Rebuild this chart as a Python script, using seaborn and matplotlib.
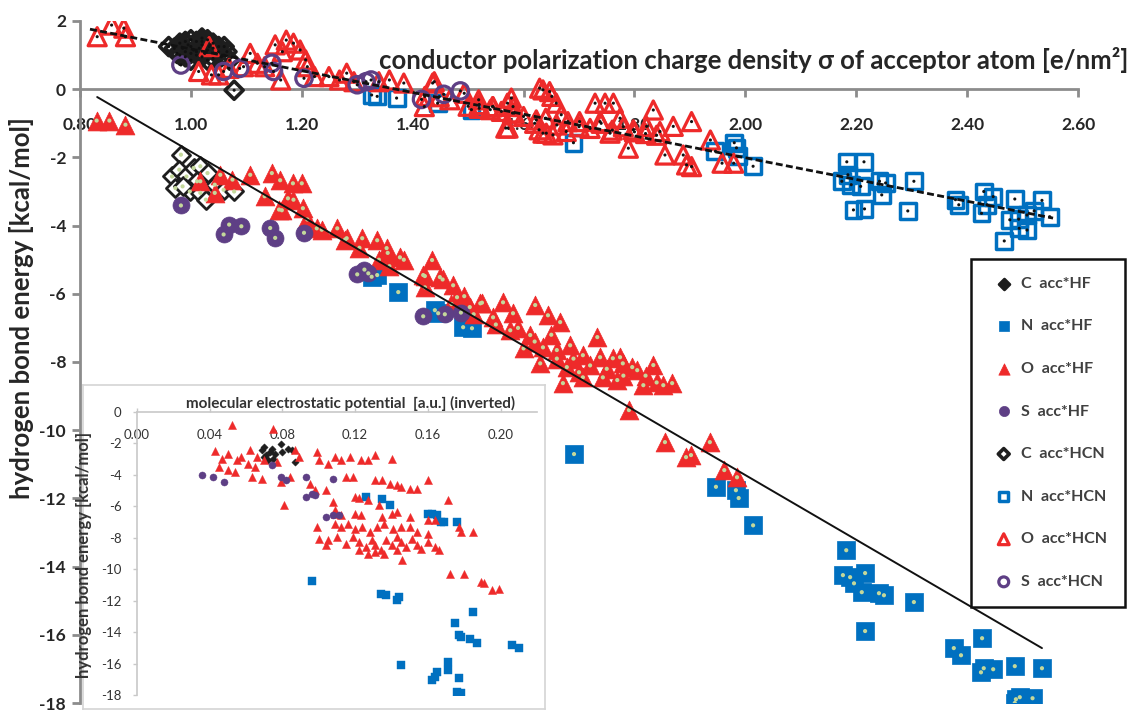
import matplotlib
matplotlib.use("Agg")
import matplotlib.pyplot as plt
import seaborn as sns
import pandas as pd

# ---------------- data: main chart (sigma vs HB energy) ----------------
# acc*HF series (filled markers)
hf_C_x = [0.982, 0.966, 0.979, 0.992, 0.972, 1.005, 1.017, 1.011, 1.030, 0.998, 1.017, 1.043, 1.059, 1.078, 1.027, 0.985]
hf_C_y = [-1.92, -2.56, -2.36, -2.56, -2.90, -2.31, -2.26, -2.70, -2.46, -3.00, -3.04, -2.80, -2.95, -3.00, -3.24, -2.85]

hf_N_x = [1.336, 1.326, 1.374, 1.440, 1.446, 1.491, 1.507, 1.691, 1.947, 1.983, 1.988, 2.014, 2.182, 2.176,
          2.189, 2.196, 2.216, 2.210, 2.241, 2.250, 2.304, 2.216, 2.376, 2.389, 2.427, 2.425, 2.447, 2.430,
          2.486, 2.535, 2.488, 2.495, 2.518, 2.486]
hf_N_y = [-5.45, -5.50, -5.95, -6.48, -6.57, -6.98, -7.01, -10.70, -11.66, -11.76, -11.99, -12.79, -13.52, -14.25,
          -14.31, -14.49, -14.19, -14.75, -14.78, -14.84, -15.04, -15.89, -16.39, -16.60, -16.10, -17.10, -17.01, -16.98,
          -16.92, -16.98, -17.89, -17.83, -17.86, -18.00]

hf_O_x = [0.830, 0.853, 0.882, 1.017, 1.043, 1.053, 1.075, 1.107, 1.133, 1.146, 1.161, 1.184, 1.200, 1.175,
          1.159, 1.185, 1.202, 1.164, 1.210, 1.227, 1.236, 1.264, 1.278, 1.281, 1.309, 1.304, 1.336, 1.339,
          1.353, 1.355, 1.358, 1.377, 1.384, 1.435, 1.419, 1.422, 1.449, 1.454, 1.473, 1.422, 1.480, 1.493,
          1.522, 1.503, 1.525, 1.545, 1.563, 1.581, 1.621, 1.644, 1.666, 1.576, 1.612, 1.635, 1.660, 1.684,
          1.707, 1.733, 1.738, 1.761, 1.774, 1.779, 1.796, 1.805, 1.834, 1.868, 1.852, 1.630, 1.671, 1.707,
          1.743, 1.769, 1.816, 1.678, 1.790, 1.855, 1.893, 1.902, 1.936, 1.962, 1.985, 1.550, 1.590, 1.620,
          1.650, 1.690, 1.720, 1.750, 1.780, 1.820, 1.840, 1.700, 1.660, 1.600, 1.510, 1.470]
hf_O_y = [-0.92, -0.92, -1.04, -2.70, -3.04, -2.51, -2.65, -2.51, -3.14, -2.46, -2.67, -2.76, -2.76, -3.20,
          -3.53, -3.24, -3.49, -3.55, -3.82, -4.08, -4.12, -4.08, -4.41, -4.37, -4.37, -4.65, -4.43, -5.00,
          -4.66, -4.80, -5.19, -4.93, -5.00, -5.01, -5.45, -5.48, -5.51, -5.58, -5.75, -5.81, -6.10, -6.07,
          -6.28, -6.39, -6.26, -6.69, -6.25, -6.57, -6.33, -6.63, -6.83, -7.07, -7.21, -7.57, -7.65, -7.51,
          -7.80, -7.27, -7.86, -7.89, -7.86, -8.04, -8.15, -8.24, -8.09, -8.62, -8.68, -8.04, -8.62, -8.45,
          -8.45, -8.53, -8.68, -8.15, -9.41, -10.35, -10.79, -10.73, -10.35, -11.17, -11.38, -6.90, -7.00, -7.40,
          -7.20, -7.90, -8.10, -8.20, -8.40, -8.40, -8.60, -8.30, -7.90, -7.60, -6.60, -6.30]

hf_S_x = [0.982, 1.059, 1.069, 1.091, 1.143, 1.152, 1.204, 1.300, 1.313, 1.320, 1.419, 1.458, 1.487]
hf_S_y = [-3.41, -4.26, -3.97, -4.02, -4.07, -4.36, -4.21, -5.43, -5.29, -5.40, -6.66, -6.60, -6.55]

# acc*HCN series (open markers)
hcn_C_x = [0.97, 0.98, 0.99, 1.00, 1.00, 1.01, 1.01, 1.02, 1.02, 1.03, 1.03, 1.04, 1.04, 1.05, 1.06, 0.99,
           1.00, 1.06, 1.07, 1.078, 0.96, 1.02, 0.975, 0.985, 0.995, 1.005, 1.015, 1.025, 1.035, 1.045,
           1.055, 0.99, 1.01, 1.03, 1.05, 0.98, 1.00, 1.02, 1.04, 1.065]
hcn_C_y = [1.20, 1.35, 1.10, 1.45, 1.25, 1.00, 1.40, 1.30, 0.95, 1.15, 1.45, 1.20, 0.90, 1.10, 1.00, 0.95,
           0.85, 1.25, 0.85, -0.03, 1.25, 1.50, 1.05, 1.20, 1.30, 1.15, 1.20, 1.05, 1.30, 1.05,
           0.95, 1.40, 1.10, 0.85, 1.25, 1.00, 1.05, 1.40, 1.35, 1.10]

hcn_N_x = [1.326, 1.336, 1.371, 1.445, 1.506, 1.690, 1.946, 1.984, 1.987, 2.014, 1.980, 2.183, 2.214, 2.185,
           2.174, 2.191, 2.208, 2.195, 2.215, 2.242, 2.253, 2.246, 2.304, 2.293, 2.379, 2.385, 2.430, 2.447,
           2.426, 2.436, 2.486, 2.477, 2.493, 2.508, 2.521, 2.535, 2.549, 2.494, 2.508, 2.467]
hcn_N_y = [-0.17, -0.21, -0.26, -0.41, -0.60, -1.57, -1.82, -1.72, -1.97, -2.26, -1.57, -2.13, -2.13, -2.51,
           -2.70, -2.80, -2.85, -3.54, -3.51, -2.70, -2.75, -3.10, -2.70, -3.57, -3.24, -3.39, -3.00, -3.15,
           -3.64, -3.39, -3.22, -3.83, -3.81, -3.69, -3.57, -3.26, -3.74, -4.08, -4.13, -4.45]

hcn_O_x = [0.831, 0.857, 0.879, 0.882, 1.033, 1.014, 1.037, 1.050, 1.069, 1.095, 1.107, 1.120, 1.133, 1.152,
           1.165, 1.172, 1.185, 1.197, 1.207, 1.210, 1.162, 1.223, 1.249, 1.268, 1.281, 1.294, 1.339, 1.358,
           1.384, 1.422, 1.439, 1.467, 1.493, 1.519, 1.545, 1.571, 1.568, 1.583, 1.635, 1.651, 1.628, 1.641,
           1.436, 1.421, 1.448, 1.520, 1.544, 1.578, 1.581, 1.572, 1.629, 1.647, 1.659, 1.623, 1.635, 1.653,
           1.668, 1.677, 1.701, 1.729, 1.747, 1.762, 1.738, 1.756, 1.774, 1.789, 1.798, 1.834, 1.822, 1.846,
           1.870, 1.903, 1.855, 1.888, 1.894, 1.903, 1.937, 1.958, 1.979, 1.600, 1.620, 1.640, 1.660, 1.680,
           1.700, 1.720, 1.740, 1.760, 1.780, 1.800, 1.820, 1.840, 1.580, 1.560, 1.540, 1.520, 1.500]
hcn_O_y = [1.54, 1.88, 1.79, 1.54, 1.25, 0.52, 0.42, 0.42, 0.61, 0.66, 1.05, 0.76, 0.66, 1.30,
           1.10, 1.44, 1.35, 1.15, 0.86, 0.66, 0.27, 0.37, 0.37, 0.27, 0.47, 0.22, 0.22, 0.27,
           0.18, -0.21, 0.22, -0.31, -0.12, -0.31, -0.51, -0.41, -1.14, -0.70, -0.02, -0.21, -1.19, -1.29,
           0.18, -0.51, -0.22, -0.56, -0.51, -0.26, -0.51, -1.14, 0.03, -0.07, -0.41, -0.90, -1.29, -1.34,
           -0.75, -1.24, -0.95, -0.41, -0.41, -0.41, -0.95, -1.29, -0.85, -1.73, -1.19, -0.61, -1.09, -1.24,
           -1.09, -0.95, -1.93, -1.93, -2.22, -2.27, -1.49, -2.17, -2.17, -0.80, -1.00, -0.85, -1.05, -0.95,
           -1.10, -1.15, -1.00, -1.20, -1.10, -1.25, -1.30, -1.35, -0.70, -0.65, -0.60, -0.45, -0.50]

hcn_S_x = [0.982, 1.059, 1.088, 1.146, 1.149, 1.204, 1.300, 1.316, 1.325, 1.416, 1.456, 1.486]
hcn_S_y = [0.71, 0.52, 0.61, 0.76, 0.52, 0.32, 0.13, 0.22, 0.27, -0.30, -0.15, -0.05]

# linear trend lines (end points of the fitted lines)
trend_hf_x = [0.831, 2.535]
trend_hf_y = [-0.23, -16.39]
trend_hcn_x = [0.818, 2.555]
trend_hcn_y = [1.76, -3.78]

x_ticks = [0.80, 1.00, 1.20, 1.40, 1.60, 1.80, 2.00, 2.20, 2.40, 2.60]
x_ticklabels = ["0.80", "1.00", "1.20", "1.40", "1.60", "1.80", "2.00", "2.20", "2.40", "2.60"]
y_ticks = [-18, -16, -14, -12, -10, -8, -6, -4, -2, 0, 2]
y_ticklabels = ["-18", "-16", "-14", "-12", "-10", "-8", "-6", "-4", "-2", "0", "2"]

# ---------------- data: inset (MEP vs HB energy) ----------------
in_C_x = [0.069, 0.071, 0.073, 0.075, 0.072, 0.070, 0.076, 0.079, 0.083, 0.085, 0.080, 0.087, 0.074, 0.070]
in_C_y = [-2.44, -2.75, -2.54, -2.97, -3.07, -2.22, -2.65, -2.01, -2.33, -2.44, -2.54, -3.18, -2.33, -2.86]

in_N_x = [0.096, 0.126, 0.135, 0.139, 0.160, 0.162, 0.165, 0.167, 0.169, 0.176, 0.134, 0.137, 0.143, 0.144,
          0.145, 0.175, 0.177, 0.178, 0.183, 0.185, 0.187, 0.171, 0.171, 0.162, 0.164, 0.165, 0.177, 0.178,
          0.176, 0.206, 0.210]
in_N_y = [-10.76, -5.40, -5.51, -5.93, -6.46, -6.46, -6.57, -6.99, -6.99, -6.99, -11.55, -11.65, -11.97, -11.76,
          -16.10, -13.45, -14.19, -14.30, -14.41, -12.71, -14.72, -15.89, -16.42, -17.06, -16.84, -16.53, -16.95, -17.90,
          -17.80, -14.83, -15.04]

in_O_x = [0.052, 0.075, 0.043, 0.050, 0.047, 0.055, 0.062, 0.057, 0.066, 0.070, 0.045, 0.050, 0.054, 0.061,
          0.065, 0.063, 0.069, 0.079, 0.084, 0.081, 0.077, 0.087, 0.089, 0.099, 0.100, 0.105, 0.109, 0.112,
          0.117, 0.123, 0.127, 0.131, 0.140, 0.095, 0.098, 0.104, 0.115, 0.119, 0.108, 0.109, 0.120, 0.122,
          0.127, 0.133, 0.131, 0.135, 0.139, 0.143, 0.145, 0.150, 0.154, 0.160, 0.171, 0.109, 0.112, 0.120,
          0.123, 0.135, 0.140, 0.143, 0.150, 0.160, 0.164, 0.099, 0.109, 0.112, 0.116, 0.120, 0.124, 0.128,
          0.132, 0.136, 0.141, 0.145, 0.150, 0.154, 0.160, 0.177, 0.178, 0.185, 0.100, 0.105, 0.110, 0.115,
          0.119, 0.122, 0.126, 0.129, 0.131, 0.134, 0.137, 0.140, 0.143, 0.145, 0.148, 0.151, 0.154, 0.156,
          0.160, 0.164, 0.166, 0.122, 0.127, 0.131, 0.104, 0.146, 0.172, 0.180, 0.189, 0.191, 0.195, 0.199,
          0.136, 0.143]
in_O_y = [-0.85, -1.06, -2.48, -2.65, -2.97, -3.07, -2.44, -2.86, -2.86, -3.07, -3.50, -3.71, -3.81, -3.28,
          -3.50, -4.13, -4.24, -4.45, -4.13, -5.93, -3.18, -2.44, -2.86, -2.54, -3.07, -3.28, -2.86, -3.07,
          -2.86, -3.07, -3.07, -2.75, -2.97, -4.56, -4.98, -4.98, -4.13, -4.13, -5.72, -6.25, -5.40, -5.50,
          -5.61, -5.93, -4.34, -4.34, -4.56, -4.66, -4.77, -4.87, -4.87, -4.34, -5.61, -6.46, -6.57, -6.46,
          -6.57, -6.67, -6.46, -6.36, -6.67, -6.89, -6.89, -7.31, -7.10, -7.31, -7.10, -7.42, -7.31, -7.63,
          -7.31, -7.10, -7.42, -7.31, -7.31, -7.63, -7.73, -7.31, -7.63, -7.63, -8.05, -8.16, -7.94, -8.37,
          -7.94, -8.26, -8.58, -8.16, -8.47, -8.79, -8.16, -8.47, -8.79, -8.26, -8.58, -8.05, -8.47, -8.69,
          -8.26, -8.58, -8.79, -8.79, -9.00, -8.90, -8.47, -9.43, -10.28, -10.28, -10.80, -10.85, -11.33, -11.23,
          -9.00, -7.94]

in_S_x = [0.036, 0.042, 0.048, 0.074, 0.079, 0.082, 0.093, 0.093, 0.098, 0.096, 0.108, 0.104, 0.108, 0.111]
in_S_y = [-4.03, -4.13, -4.45, -3.39, -4.13, -4.34, -4.13, -5.40, -5.30, -5.19, -4.24, -6.67, -6.57, -6.57]

in_x_ticks = [0.00, 0.04, 0.08, 0.12, 0.16, 0.20]
in_x_ticklabels = ["0.00", "0.04", "0.08", "0.12", "0.16", "0.20"]
in_y_ticks = [-18, -16, -14, -12, -10, -8, -6, -4, -2, 0]
in_y_ticklabels = ["-18", "-16", "-14", "-12", "-10", "-8", "-6", "-4", "-2", "0"]

# ---------------- style ----------------
sns.set_theme(style="white")
plt.rcParams["font.family"] = ["Lato", "DejaVu Sans"]
plt.rcParams["axes.unicode_minus"] = False

C_BLACK = "#1e1e1e"
C_BLUE = "#0070c0"
C_RED = "#ee2a2a"
C_PURPLE = "#5e3f85"
C_DOT = "#c4d89b"
C_AXIS = "#8c8c8c"
C_TEXT = "#262626"

fig = plt.figure(figsize=(11.32, 7.11), dpi=100)
ax = fig.add_axes([80 / 1132, 1 - 703 / 711, 998 / 1132, 682 / 711])
ax.set_facecolor("white")

def sc(axx, xs, ys, **kw):
    sns.scatterplot(x=xs, y=ys, ax=axx, **kw)

# filled (acc*HF)
sc(ax, hf_C_x, hf_C_y, marker="D", s=85, facecolor="white", edgecolor=C_BLACK, linewidth=2.0,
   label="C  acc*HF", zorder=3)
sc(ax, hf_N_x, hf_N_y, marker="s", s=150, facecolor=C_BLUE, edgecolor=C_BLUE, linewidth=0.5,
   label="N  acc*HF", zorder=3)
sc(ax, hf_O_x, hf_O_y, marker="^", s=185, facecolor=C_RED, edgecolor=C_RED, linewidth=0.5,
   label="O  acc*HF", zorder=3)
sc(ax, hf_S_x, hf_S_y, marker="o", s=150, facecolor=C_PURPLE, edgecolor=C_PURPLE, linewidth=0.5,
   label="S  acc*HF", zorder=3)
# open (acc*HCN)
sc(ax, hcn_C_x, hcn_C_y, marker="D", s=85, facecolor="none", edgecolor=C_BLACK, linewidth=2.6,
   label="C  acc*HCN", zorder=3)
sc(ax, hcn_N_x, hcn_N_y, marker="s", s=130, facecolor="none", edgecolor=C_BLUE, linewidth=2.5,
   label="N  acc*HCN", zorder=3)
sc(ax, hcn_O_x, hcn_O_y, marker="^", s=170, facecolor="none", edgecolor=C_RED, linewidth=2.3,
   label="O  acc*HCN", zorder=3)
sc(ax, hcn_S_x, hcn_S_y, marker="o", s=140, facecolor="none", edgecolor=C_PURPLE, linewidth=2.3,
   label="S  acc*HCN", zorder=3)

# centre dots
for xs, ys in [(hf_C_x, hf_C_y), (hf_N_x, hf_N_y), (hf_O_x, hf_O_y), (hf_S_x, hf_S_y)]:
    sc(ax, xs, ys, marker="o", s=9, color=C_DOT, edgecolor="none", linewidth=0, zorder=4, legend=False)
for xs, ys in [(hcn_C_x, hcn_C_y), (hcn_N_x, hcn_N_y), (hcn_O_x, hcn_O_y), (hcn_S_x, hcn_S_y)]:
    sc(ax, xs, ys, marker="o", s=5, color="#111111", edgecolor="none", linewidth=0, zorder=4, legend=False)

# trend lines
sns.lineplot(x=trend_hf_x, y=trend_hf_y, ax=ax, color="#111111", linewidth=1.4, zorder=5)
sns.lineplot(x=trend_hcn_x, y=trend_hcn_y, ax=ax, color="#111111", linewidth=2.0,
             linestyle=(0, (2.5, 1.2)), zorder=5)

ax.set_xlim(0.8, 2.6)
ax.set_ylim(-18, 2)
ax.set_xticks(x_ticks)
ax.set_xticklabels(x_ticklabels)
ax.set_yticks(y_ticks)
ax.set_yticklabels(y_ticklabels)
for s in ["top", "right"]:
    ax.spines[s].set_visible(False)
ax.spines["bottom"].set_position(("data", 0))
for s in ["bottom", "left"]:
    ax.spines[s].set_color(C_AXIS)
    ax.spines[s].set_linewidth(2)
    ax.spines[s].set_zorder(2)
ax.tick_params(axis="x", direction="out", length=6, width=2, color=C_AXIS, pad=14,
               labelsize=12.5, labelcolor=C_TEXT, bottom=True)
ax.tick_params(axis="y", direction="out", length=6, width=2, color=C_AXIS, pad=4,
               labelsize=12.5, labelcolor=C_TEXT, left=True)
for lab in ax.get_xticklabels() + ax.get_yticklabels():
    lab.set_fontweight("bold")
ax.grid(False)

ax.set_xlabel("conductor polarization charge density \u03c3 of acceptor atom [e/nm\u00b2]",
              fontsize=18.5, fontweight="bold", color=C_TEXT, ha="right", va="center")
ax.xaxis.set_label_coords((1128 - 80) / 998, (703 - 60) / 682)
ax.set_ylabel("hydrogen bond energy [kcal/mol]", fontsize=18.5, fontweight="bold", color=C_TEXT,
              va="center", ha="center")
ax.yaxis.set_label_coords((22 - 80) / 998, (703 - 308) / 682)

leg = ax.legend(loc="upper left", bbox_to_anchor=(971 / 1132, 1 - 259 / 711),
                bbox_transform=fig.transFigure, borderaxespad=0, frameon=True, fancybox=False,
                framealpha=1, edgecolor="#111111", borderpad=1.1, labelspacing=1.78, handlelength=1.9,
                handletextpad=0.15, markerscale=0.6, prop={"size": 11.5, "weight": "bold"})
leg.get_frame().set_linewidth(1.8)
for t in leg.get_texts():
    t.set_color("#404040")
leg.legend_handles[0].set_facecolor(C_BLACK)
leg.set_zorder(10)

# ---------------- inset ----------------
bg = fig.add_axes([83 / 1132, 1 - 709 / 711, 462 / 1132, 324 / 711])
bg.set_facecolor("white")
bg.set_xticks([])
bg.set_yticks([])
for s in bg.spines.values():
    s.set_color("#d4d4d4")
    s.set_linewidth(1.2)
bg.set_zorder(6)

axi = fig.add_axes([137 / 1132, 1 - 695 / 711, 400 / 1132, 283 / 711])
axi.set_zorder(7)
axi.patch.set_alpha(0)
sc(axi, in_C_x, in_C_y, marker="D", s=14, color=C_BLACK, edgecolor=C_BLACK, linewidth=0.3)
sc(axi, in_N_x, in_N_y, marker="s", s=28, color=C_BLUE, edgecolor=C_BLUE, linewidth=0.3)
sc(axi, in_O_x, in_O_y, marker="^", s=34, color=C_RED, edgecolor=C_RED, linewidth=0.3)
sc(axi, in_S_x, in_S_y, marker="o", s=26, color=C_PURPLE, edgecolor=C_PURPLE, linewidth=0.3)
axi.set_xlim(0, 0.22)
axi.set_ylim(-18, 0)
axi.set_xticks(in_x_ticks)
axi.set_xticklabels(in_x_ticklabels)
axi.set_yticks(in_y_ticks)
axi.set_yticklabels(in_y_ticklabels)
for s in ["top", "right"]:
    axi.spines[s].set_visible(False)
axi.spines["bottom"].set_position(("data", 0))
for s in ["bottom", "left"]:
    axi.spines[s].set_color("#c8c8c8")
    axi.spines[s].set_linewidth(1.2)
axi.tick_params(axis="x", direction="in", length=3, width=1, color="#c8c8c8", pad=12,
                labelsize=9.5, labelcolor="#333333", bottom=True)
axi.tick_params(axis="y", direction="out", length=3, width=1, color="#c8c8c8", pad=8,
                labelsize=9.5, labelcolor="#333333", left=True)
axi.grid(False)
axi.set_xlabel("")
axi.text((351 - 137) / 400, (695 - 403) / 283,
         "molecular electrostatic potential  [a.u.] (inverted)", transform=axi.transAxes,
         ha="center", va="center", fontsize=11, fontweight="bold", color="#333333")
axi.set_ylabel("hydrogen bond energy [kcal/mol]", fontsize=12, fontweight="bold", color="#333333")
axi.yaxis.set_label_coords((92 - 137) / 400, (695 - 555) / 283)

fig.savefig("out.png", dpi=100)
